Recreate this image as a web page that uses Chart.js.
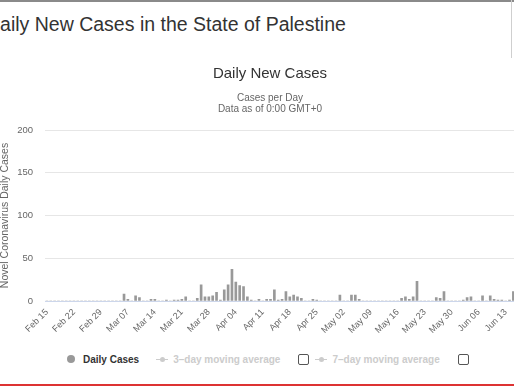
<!DOCTYPE html>
<html>
<head>
<meta charset="utf-8">
<script src="https://cdn.jsdelivr.net/npm/chart.js@4"></script>
<style>
  html, body { margin: 0; padding: 0; overflow: hidden; background: #fff; }
  body { width: 514px; height: 386px; position: relative; font-family: "Liberation Sans", Arial, sans-serif; }
  .topline { position: absolute; left: 0; top: 0; width: 514px; height: 2px; background: #8a8a8a; }
  .sideline { position: absolute; left: 511px; top: 0; width: 1px; height: 58px; background: #cfcfcf; }
  .heading { position: absolute; left: -14px; top: 15px; font-size: 19.5px; line-height: 1; color: #333; white-space: nowrap; }
  .wrap { position: absolute; left: 0; top: 0; width: 540px; height: 345px; }
  .legend { position: absolute; left: 67px; top: 352px; height: 14px; display: flex; align-items: center; font-size: 10px; font-weight: bold; white-space: nowrap; }
  .dot { width: 8px; height: 8px; border-radius: 50%; background: #999; margin-right: 8px; }
  .on { color: #333; margin-right: 17px; }
  .off { color: #ccc; }
  .sym { position: relative; width: 12px; height: 8px; margin-right: 5px; }
  .sym::before { content: ""; position: absolute; left: 0; top: 3.5px; width: 12px; height: 1px; background: #ccc; }
  .sym::after { content: ""; position: absolute; left: 3.5px; top: 1.5px; width: 5px; height: 5px; border-radius: 50%; background: #ccc; }
  .box { width: 9px; height: 9px; border: 1px solid #555; border-radius: 2px; margin-left: 18px; margin-right: 6px; }
  .bottomline { position: absolute; left: 0; top: 384px; width: 514px; height: 2px; background: #dd3333; }
</style>
</head>
<body>
<div class="topline"></div>
<div class="sideline"></div>
<div class="heading">Daily New Cases in the State of Palestine</div>
<div class="wrap"><canvas id="myChart" width="540" height="345"></canvas></div>
<div class="legend">
  <span class="dot"></span><span class="on">Daily Cases</span>
  <span class="sym"></span><span class="off">3–day moving average</span><span class="box"></span>
  <span class="sym"></span><span class="off">7–day moving average</span><span class="box"></span>
</div>
<div class="bottomline"></div>
<script>
// dates on the x axis (Feb 15 - Jun 15)
const dates = [
  "Feb 15", "Feb 16", "Feb 17", "Feb 18", "Feb 19", "Feb 20", "Feb 21",
  "Feb 22", "Feb 23", "Feb 24", "Feb 25", "Feb 26", "Feb 27", "Feb 28",
  "Feb 29", "Mar 01", "Mar 02", "Mar 03", "Mar 04", "Mar 05", "Mar 06",
  "Mar 07", "Mar 08", "Mar 09", "Mar 10", "Mar 11", "Mar 12", "Mar 13",
  "Mar 14", "Mar 15", "Mar 16", "Mar 17", "Mar 18", "Mar 19", "Mar 20",
  "Mar 21", "Mar 22", "Mar 23", "Mar 24", "Mar 25", "Mar 26", "Mar 27",
  "Mar 28", "Mar 29", "Mar 30", "Mar 31", "Apr 01", "Apr 02", "Apr 03",
  "Apr 04", "Apr 05", "Apr 06", "Apr 07", "Apr 08", "Apr 09", "Apr 10",
  "Apr 11", "Apr 12", "Apr 13", "Apr 14", "Apr 15", "Apr 16", "Apr 17",
  "Apr 18", "Apr 19", "Apr 20", "Apr 21", "Apr 22", "Apr 23", "Apr 24",
  "Apr 25", "Apr 26", "Apr 27", "Apr 28", "Apr 29", "Apr 30", "May 01",
  "May 02", "May 03", "May 04", "May 05", "May 06", "May 07", "May 08",
  "May 09", "May 10", "May 11", "May 12", "May 13", "May 14", "May 15",
  "May 16", "May 17", "May 18", "May 19", "May 20", "May 21", "May 22",
  "May 23", "May 24", "May 25", "May 26", "May 27", "May 28", "May 29",
  "May 30", "May 31", "Jun 01", "Jun 02", "Jun 03", "Jun 04", "Jun 05",
  "Jun 06", "Jun 07", "Jun 08", "Jun 09", "Jun 10", "Jun 11", "Jun 12",
  "Jun 13", "Jun 14", "Jun 15"
];

// daily new cases, one row per week
const dailyCases = [
  0, 0, 0, 0, 0, 0, 0,
  0, 0, 0, 0, 0, 0, 0,
  0, 0, 0, 0, 0, 0, 8,
  2, 0, 6, 4, 0, 0, 2,
  2, 0, 0, 1, 0, 1, 1,
  2, 5, 0, 0, 3, 19, 5,
  5, 6, 10, 1, 13, 19, 37,
  22, 18, 17, 5, 1, 0, 2,
  0, 2, 2, 13, 1, 2, 11,
  5, 7, 5, 3, 0, 0, 2,
  1, 0, 0, 0, 0, 0, 7,
  0, 0, 7, 7, 2, 0, 0,
  0, 0, 0, 0, 0, 0, 0,
  0, 3, 5, 2, 5, 23, 0,
  0, 0, 0, 4, 3, 11, 0,
  0, 0, 0, 1, 4, 5, 0,
  0, 6, 0, 6, 2, 1, 1,
  0, 1, 11
];

const yTicks = [0, 50, 100, 150, 200];

Chart.defaults.font.family = '"Liberation Sans", Arial, sans-serif';

function renderChart() {
  const ctx = document.getElementById("myChart");

  new Chart(ctx, {
    type: "bar",
    data: {
      labels: dates,
      datasets: [
        {
          label: "Daily Cases",
          data: dailyCases,
          backgroundColor: "#999999",
          barThickness: 2,
          yAxisID: "y",
        },
      ],
    },
    options: {
      responsive: false,
      animation: false,
      devicePixelRatio: 1,
      layout: { padding: 0 },
      plugins: {
        legend: { display: false },
        tooltip: { enabled: false },
        title: {
          display: true,
          text: "Daily New Cases",
          color: "#333",
          font: { size: 15, weight: "normal", lineHeight: 1.2 },
          padding: { top: 65, bottom: 0 },
        },
        subtitle: {
          display: true,
          text: ["Cases per Day", "Data as of 0:00 GMT+0"],
          color: "#666",
          font: { size: 10, lineHeight: 1.05 },
          padding: { top: 10, bottom: 16 },
        },
      },
      scales: {
        x: {
          grid: { display: false, drawTicks: false },
          border: { color: "#ccd6eb" },
          ticks: {
            autoSkip: false,
            minRotation: 45,
            maxRotation: 45,
            color: "#666",
            font: { size: 9 },
            padding: 6,
            // a label every seventh day
            callback: function (value, index) {
              return index % 7 === 0 ? dates[index] : "";
            },
          },
          afterFit: function (scale) {
            scale.height = 44;
          },
        },
        y: {
          min: yTicks[0],
          max: yTicks[yTicks.length - 1],
          afterBuildTicks: function (scale) {
            scale.ticks = yTicks.map(function (v) { return { value: v }; });
          },
          grid: {
            drawTicks: false,
            color: function (c) {
              return c.tick && c.tick.value === 0 ? "#ccd6eb" : "#e6e6e6";
            },
          },
          border: { display: false },
          ticks: { color: "#666", font: { size: 9.5 }, padding: 12 },
          title: {
            display: true,
            text: "Novel Coronavirus Daily Cases",
            color: "#666",
            font: { size: 10.5, lineHeight: 1 },
            padding: 0,
          },
          afterFit: function (scale) {
            scale.width = 45;
          },
        },
        // empty axis on the right, keeps the titles centred like the original page
        yRight: {
          position: "right",
          display: true,
          grid: { display: false, drawTicks: false },
          border: { display: false },
          ticks: { display: false },
          afterFit: function (scale) {
            scale.width = 24.7;
          },
        },
      },
    },
  });
}

renderChart();
</script>
</body>
</html>
